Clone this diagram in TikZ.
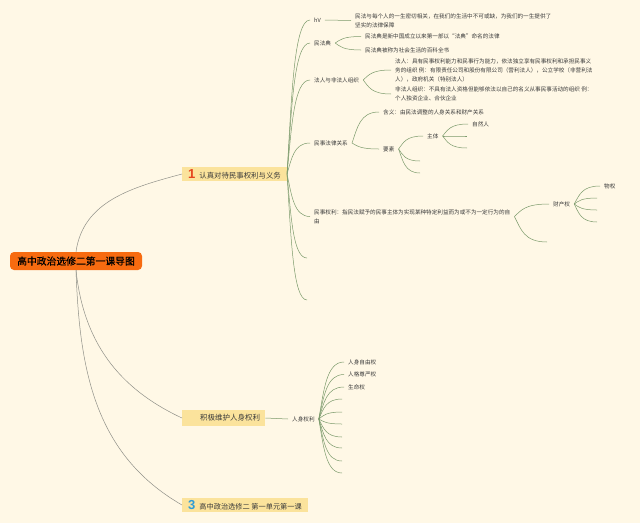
\documentclass[tikz,border=0pt]{standalone}
\usepackage{fontspec}
\setmainfont{Noto Sans CJK SC}
\newfontfamily\rootfont[FakeBold=0.6]{Noto Sans CJK SC}
\newfontfamily\numfont{Liberation Sans}
\usetikzlibrary{calc}
\definecolor{bg}{HTML}{FFF8E6}
\definecolor{rootc}{HTML}{F76B10}
\definecolor{boxc}{HTML}{FBE39C}
\definecolor{linec}{HTML}{7B9A6B}
\definecolor{rootline}{HTML}{8F9088}
\definecolor{txt}{HTML}{3A3A3A}
\definecolor{onec}{HTML}{E5451E}
\definecolor{threec}{HTML}{2E9CD6}
\tikzset{
  lbl/.style={anchor=west, inner xsep=4pt, inner ysep=1pt, text=txt,
    font=\fontsize{5.6}{9}\selectfont, align=left},
  topic/.style={fill=boxc, inner xsep=6pt, inner ysep=0pt, minimum height=14pt,
    text=txt, font=\fontsize{7.4}{9}\selectfont, anchor=west},
  br/.style={to path={let \p1=(\tikztostart), \p2=(\tikztotarget) in
    .. controls ({\x1+0.2*(\x2-\x1)},{\y1+0.5*(\y2-\y1)}) and ({\x1+0.3*(\x2-\x1)},{\y2}) .. (\tikztotarget)}},
  conn/.style={draw=linec, line width=0.5pt},
  rconn/.style={draw=rootline, line width=0.5pt},
}
\begin{document}
\begin{tikzpicture}[x=1pt,y=-1pt]
\fill[bg] (0,0) rectangle (640,523);
\useasboundingbox (0,0) rectangle (640,523);

% root and main topics
\node[fill=rootc, rounded corners=4pt, minimum width=132pt, minimum height=18pt,
  inner sep=0pt, font=\rootfont\fontsize{9.8}{10}\selectfont, text=black] (root) at (76,261) {高中政治选修二第一课导图};
\node[topic] (t1) at (182,174) {{\numfont\bfseries\fontsize{13}{13}\selectfont\color{onec}1}\hspace{4pt}认真对待民事权利与义务};
\node[topic, inner xsep=5pt, minimum height=16pt, font=\fontsize{7.5}{9}\selectfont] (t2) at (182,418) {\hspace{13pt}积极维护人身权利};
\node[topic, inner xsep=6pt, font=\fontsize{7.2}{9}\selectfont] (t3) at (182,505) {{\numfont\bfseries\fontsize{13}{13}\selectfont\color{threec}3}\hspace{4pt}高中政治选修二 第一单元第一课};

\draw[rconn] (root.north) to[out=82, in=195] (t1.west);
\draw[rconn] (root.south) to[out=-84, in=155] (t2.west);
\draw[rconn] (root.south) to[out=-88, in=150] (t3.west);

% level 2 under topic 1
\node[lbl] (hv) at (310,20) {hV};
\node[lbl] (hvd) at (351,20.5) {民法与每个人的一生密切相关，在我们的生活中不可或缺，为我们的一生提供了\\坚实的法律保障};
\node[lbl] (mfd) at (310,43) {民法典};
\node[lbl] (mfd1) at (361,36.5) {民法典是新中国成立以来第一部以“法典”命名的法律};
\node[lbl] (mfd2) at (361,50) {民法典被称为社会生活的百科全书};
\node[lbl] (fr) at (310,80) {法人与非法人组织};
\node[lbl] (fr1) at (391,70) {法人：具有民事权利能力和民事行为能力，依法独立享有民事权利和承担民事义\\务的组织 例：有限责任公司和股份有限公司（营利法人），公立学校（非营利法\\人），政府机关（特别法人）};
\node[lbl] (fr2) at (391,94) {非法人组织：不具有法人资格但能够依法以自己的名义从事民事活动的组织 例：\\个人独资企业、合伙企业};
\node[lbl] (msfl) at (310,143) {民事法律关系};
\node[lbl] (hy) at (379,112) {含义：由民法调整的人身关系和财产关系};
\node[lbl] (ys) at (379,149) {要素};
\node[lbl] (zt) at (423,136) {主体};
\coordinate (ys1) at (420,161);
\coordinate (ys2) at (420,173);
\node[lbl] (zrr) at (468,124) {自然人};
\coordinate (zt1) at (467,136);
\coordinate (zt2) at (467,148);
\node[lbl] (msql) at (310,216.5) {民事权利：指民法赋予的民事主体为实现某种特定利益而为或不为一定行为的自\\由};
\coordinate (f1) at (307,258);
\coordinate (f2) at (307,300);
\node[lbl] (ccq) at (549,204) {财产权};
\coordinate (ccq2) at (547,242);
\node[lbl] (wq) at (600,186) {物权};
\coordinate (wq1) at (597,198);
\coordinate (wq2) at (597,210);
\coordinate (wq3) at (597,222);

\foreach \t in {hv,mfd,fr,msfl,msql} \draw[conn] (t1.east) to[br] (\t.west);
\foreach \t in {f1,f2} \draw[conn] (t1.east) to[br] (\t);
\draw[conn] (hv.east) -- (hvd.west);
\foreach \t in {mfd1,mfd2} \draw[conn] (mfd.east) to[br] (\t.west);
\foreach \t in {fr1,fr2} \draw[conn] (fr.east) to[br] (\t.west);
\foreach \t in {hy,ys} \draw[conn] (msfl.east) to[br] (\t.west);
\draw[conn] (ys.east) to[br] (zt.west);
\foreach \t in {ys1,ys2} \draw[conn] (ys.east) to[br] (\t);
\draw[conn] (zt.east) to[br] (zrr.west);
\foreach \t in {zt1,zt2} \draw[conn] (zt.east) to[br] (\t);
\draw[conn] (msql.east) to[br] (ccq.west);
\draw[conn] (msql.east) to[br] (ccq2);
\draw[conn] (ccq.east) to[br] (wq.west);
\foreach \t in {wq1,wq2,wq3} \draw[conn] (ccq.east) to[br] (\t);

% topic 2
\node[lbl] (rsql) at (288,419) {人身权利};
\node[lbl] (rs1) at (344,362) {人身自由权};
\node[lbl] (rs2) at (344,374.5) {人格尊严权};
\node[lbl] (rs3) at (344,387) {生命权};
\coordinate (r4) at (342,399);
\coordinate (r5) at (342,412);
\coordinate (r6) at (342,424);
\coordinate (r7) at (342,437);
\coordinate (r8) at (342,448);
\coordinate (r9) at (342,461);
\coordinate (r10) at (342,473);
\draw[conn] (t2.east) -- (rsql.west);
\foreach \t in {rs1,rs2,rs3} \draw[conn] (rsql.east) to[br] (\t.west);
\foreach \t in {r4,r5,r6,r7,r8,r9,r10} \draw[conn] (rsql.east) to[br] (\t);
\end{tikzpicture}
\end{document}
